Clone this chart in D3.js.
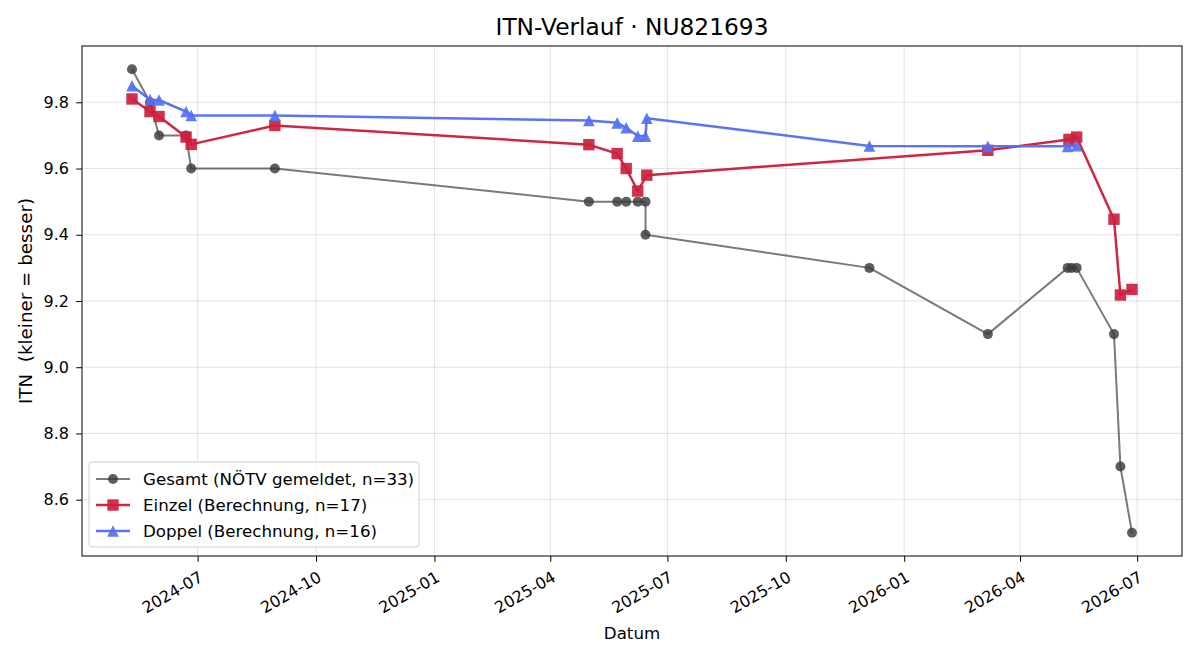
<!DOCTYPE html>
<html><head><meta charset="utf-8">
<script src="https://cdn.jsdelivr.net/npm/d3@7"></script>
<style>body{margin:0;background:#fff;} svg, svg text{font-family:"DejaVu Sans",sans-serif;} text{white-space:pre;}</style>
</head><body>
<svg id="chart" width="1200" height="660"></svg>
<script>
// ---- data ----
const gesamtDates = ["2024-05-11","2024-05-25","2024-06-01","2024-06-22","2024-06-26","2024-08-30","2025-05-01","2025-05-23","2025-05-30","2025-06-08","2025-06-14","2025-06-14","2025-12-05","2026-03-07","2026-05-08","2026-05-11","2026-05-15","2026-06-13","2026-06-18","2026-06-27"];
const gesamtValues = [9.9,9.8,9.7,9.7,9.6,9.6,9.5,9.5,9.5,9.5,9.5,9.4,9.3,9.1,9.3,9.3,9.3,9.1,8.7,8.5];
const einzelDates = ["2024-05-11","2024-05-25","2024-06-01","2024-06-22","2024-06-26","2024-08-30","2025-05-01","2025-05-23","2025-05-30","2025-06-08","2025-06-15","2026-03-07","2026-05-09","2026-05-15","2026-06-13","2026-06-18","2026-06-27"];
const einzelValues = [9.81,9.772,9.757,9.695,9.673,9.73,9.672,9.645,9.6,9.532,9.58,9.655,9.688,9.695,9.447,9.218,9.235];
const doppelDates = ["2024-05-11","2024-05-25","2024-06-01","2024-06-22","2024-06-26","2024-08-30","2025-05-01","2025-05-23","2025-05-30","2025-06-08","2025-06-14","2025-06-15","2025-12-05","2026-03-07","2026-05-08","2026-05-15"];
const doppelValues = [9.85,9.808,9.807,9.772,9.76,9.76,9.745,9.738,9.723,9.698,9.698,9.752,9.668,9.667,9.667,9.669];
const yTicks = [8.6,8.8,9.0,9.2,9.4,9.6,9.8];
const xTickLabels = ["2024-07","2024-10","2025-01","2025-04","2025-07","2025-10","2026-01","2026-04","2026-07"];
const legendLabels = ["Gesamt (NÖTV gemeldet, n=33)","Einzel (Berechnung, n=17)","Doppel (Berechnung, n=16)"];
const titleText = "ITN-Verlauf · NU821693";

// ---- layout ----
const svg = d3.select("#chart");
const L = 82, R = 1182, T = 46, B = 556;
const FS = 16.67, TFS = 16;
const FONT = "DejaVu Sans";
const parse = d3.utcParse("%Y-%m-%d");
const mk = (ds, vs) => ds.map((d,i)=>({date:parse(d), v:vs[i]}));
const series = [
  {name:legendLabels[0], data:mk(gesamtDates,gesamtValues), color:"#3a3a3a", lw:2, lineOp:0.68, mOp:0.82, shape:"circle"},
  {name:legendLabels[1], data:mk(einzelDates,einzelValues), color:"#cc1f3d", lw:2.5, lineOp:0.97, mOp:0.92, shape:"square"},
  {name:legendLabels[2], data:mk(doppelDates,doppelValues), color:"#5570f2", lw:2.5, lineOp:0.97, mOp:0.92, shape:"triangle"}
];
const all = series.flatMap(s=>s.data);
const xExt = d3.extent(all, d=>d.date);
const xPad = (xExt[1]-xExt[0])*0.05;
const x = d3.scaleUtc().domain([new Date(+xExt[0]-xPad), new Date(+xExt[1]+xPad)]).range([L,R]);
const yExt = d3.extent(all, d=>d.v);
const yPad = (yExt[1]-yExt[0])*0.05;
const y = d3.scaleLinear().domain([yExt[0]-yPad, yExt[1]+yPad]).range([B,T]);
const xTicks = xTickLabels.map(s=>parse(s+"-01"));

// grid
const g = svg.append("g");
g.selectAll(".vg").data(xTicks).join("line").attr("x1",d=>x(d)).attr("x2",d=>x(d)).attr("y1",T).attr("y2",B).attr("stroke","#b0b0b0").attr("stroke-opacity",0.35).attr("stroke-width",1);
g.selectAll(".hg").data(yTicks).join("line").attr("x1",L).attr("x2",R).attr("y1",d=>y(d)).attr("y2",d=>y(d)).attr("stroke","#b0b0b0").attr("stroke-opacity",0.35).attr("stroke-width",1);

// series
const line = d3.line().x(d=>x(d.date)).y(d=>y(d.v));
svg.append("defs").append("clipPath").attr("id","clip").append("rect").attr("x",L).attr("y",T).attr("width",R-L).attr("height",B-T);
const sym = {
  circle: "M5,0A5,5,0,1,1,-5,0A5,5,0,1,1,5,0Z",
  square: "M-5.7,-5.7H5.7V5.7H-5.7Z",
  triangle: "M0,-5.8L5.8,5.8H-5.8Z"
};
series.forEach(s=>{
  const sg = svg.append("g").attr("clip-path","url(#clip)");
  sg.append("path").datum(s.data).attr("d",line).attr("fill","none").attr("stroke",s.color).attr("stroke-width",s.lw).attr("stroke-opacity",s.lineOp).attr("stroke-linejoin","round");
  sg.selectAll("path.m").data(s.data).join("path").attr("class","m")
    .attr("d",sym[s.shape]).attr("transform",d=>`translate(${x(d.date)},${y(d.v)})`)
    .attr("fill",s.color).attr("fill-opacity",s.mOp);
});

// axes
const xAxis = svg.append("g").attr("transform",`translate(0,${B})`).call(d3.axisBottom(x).tickValues(xTicks).tickFormat(d3.utcFormat("%Y-%m")).tickSize(5.8).tickSizeOuter(0));
xAxis.attr("font-family",FONT).attr("font-size",TFS);
xAxis.select(".domain").remove();
xAxis.selectAll("text").attr("font-family",FONT).attr("font-size",TFS).attr("fill","#000").attr("text-anchor","end").attr("dy",null).attr("y",0)
  .attr("transform","translate(0,14) rotate(-30)").attr("dominant-baseline","hanging");
xAxis.selectAll("line").attr("stroke","#000").attr("stroke-width",1);
const yAxis = svg.append("g").attr("transform",`translate(${L},0)`).call(d3.axisLeft(y).tickValues(yTicks).tickFormat(d3.format(".1f")).tickSize(5.8).tickSizeOuter(0));
yAxis.attr("font-family",FONT).attr("font-size",TFS);
yAxis.select(".domain").remove();
yAxis.selectAll("text").attr("font-family",FONT).attr("font-size",TFS).attr("fill","#000").attr("x",-13);
yAxis.selectAll("line").attr("stroke","#000").attr("stroke-width",1);
svg.append("rect").attr("x",L).attr("y",T).attr("width",R-L).attr("height",B-T).attr("fill","none").attr("stroke","#000").attr("stroke-width",1);

// labels
svg.append("text").attr("x",(L+R)/2).attr("y",35).attr("text-anchor","middle").attr("font-size",23.3).text(titleText);
svg.append("text").attr("x",(L+R)/2).attr("y",639).attr("text-anchor","middle").attr("font-size",FS).text("Datum");
svg.append("text").attr("transform",`translate(32,${(T+B)/2}) rotate(-90)`).attr("text-anchor","middle").attr("font-size",18.3).text("ITN  (kleiner = besser)");

// legend
const lg = svg.append("g");
lg.append("rect").attr("x",89).attr("y",462).attr("width",330).attr("height",85).attr("rx",3).attr("fill","#fff").attr("fill-opacity",0.8).attr("stroke","#ccc");
series.forEach((s,i)=>{
  const yy = 479 + i*26;
  lg.append("line").attr("x1",96).attr("x2",130).attr("y1",yy).attr("y2",yy).attr("stroke",s.color).attr("stroke-width",s.lw).attr("stroke-opacity",s.lineOp);
  lg.append("path").attr("d",sym[s.shape]).attr("transform",`translate(113,${yy})`).attr("fill",s.color).attr("fill-opacity",s.mOp);
  lg.append("text").attr("x",143).attr("y",yy+6).attr("font-size",FS).text(s.name);
});
</script>
</body></html>
